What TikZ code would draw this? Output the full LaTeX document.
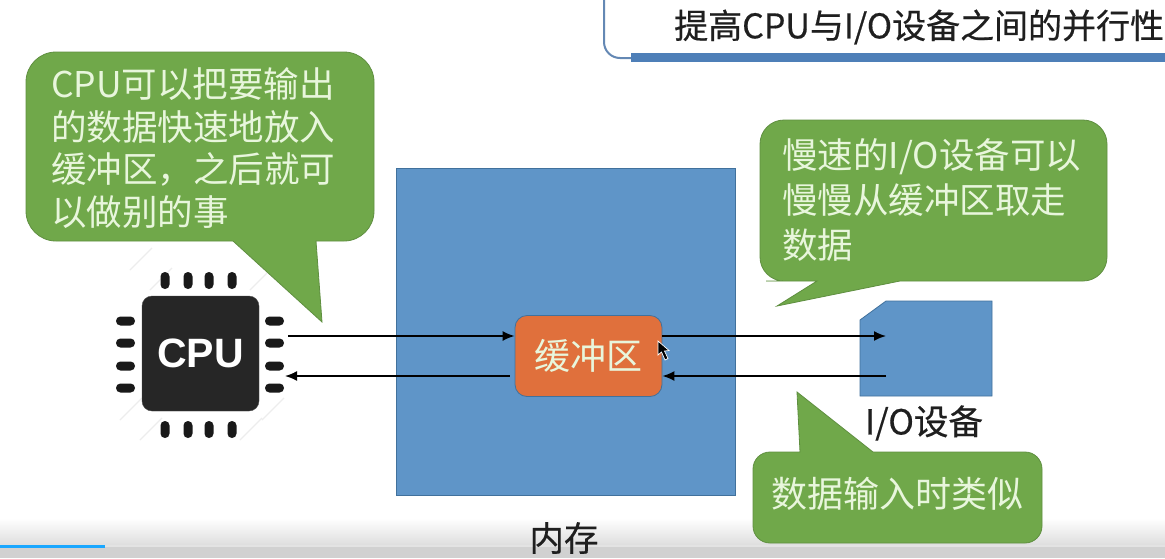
\documentclass[tikz,border=0pt]{standalone}
\usepackage{fontspec}
\setmainfont{Noto Sans CJK SC}
\newfontfamily\latinbold{Liberation Sans}
\newfontfamily\medfont[FakeBold=0.5]{Noto Sans CJK SC}
\usetikzlibrary{calc,arrows.meta}
\definecolor{callfill}{HTML}{70A84A}
\definecolor{callline}{HTML}{5F8F40}
\definecolor{calltext}{HTML}{E8F6DC}
\definecolor{memblue}{HTML}{5F95C8}
\definecolor{memline}{HTML}{41719C}
\definecolor{bufred}{HTML}{E0703C}
\definecolor{chip}{HTML}{262626}
\definecolor{framebl}{HTML}{6488B4}
\definecolor{barbl}{HTML}{4E7FB8}
\definecolor{progress}{HTML}{1AA7FF}
\tikzset{
 callout/.style={fill=callfill,draw=callline,line width=0.8pt},
 calllabel/.style={text=calltext,anchor=west,align=left,inner sep=0pt,font=\fontsize{35.5}{42.6}\selectfont},
 blacklabel/.style={text=black!88,inner sep=0pt,font=\medfont\fontsize{34.5}{40}\selectfont},
 flow/.style={line width=1.7pt,draw=black,-{Latex[length=12pt,width=10pt]}},
 pin/.style={fill=black!90,rounded corners=4.4pt},
 faint/.style={draw=black!7,line width=1.2pt},
}
\begin{document}
\begin{tikzpicture}[x=1pt,y=-1pt]
\useasboundingbox (0,0) rectangle (1165,558);
\fill[white] (0,0) rectangle (1165,558);
% bottom fade
\shade[top color=white,bottom color=black!13,shading=axis] (0,518) rectangle (1165,545);
\fill[black!18] (0,547) rectangle (1165,558);
\fill[black!11] (0,545) rectangle (1165,547);
\fill[progress] (0,544.5) rectangle (105,547.5);
% title frame
\draw[framebl,line width=2pt,rounded corners=16pt] (604,-4) -- (604,58) -- (640,58);
\fill[barbl] (631,53) rectangle (1165,62);
\node[blacklabel,font=\medfont\fontsize{34}{38}\selectfont,anchor=west] (title) at (674,27) {提高CPU与I/O设备之间的并行性};
% memory
\node[draw=memline,fill=memblue,line width=0.8pt,minimum width=339pt,minimum height=327pt,inner sep=0pt] (mem) at (565.5,331.5) {};
\node[blacklabel] (memlabel) at (564,538) {内存};
% buffer
\node[draw=memline,fill=bufred,line width=0.8pt,rounded corners=12pt,minimum width=147pt,minimum height=81pt,inner sep=0pt,text=calltext,font=\fontsize{36}{40}\selectfont] (buf) at (588.5,356) {缓冲区};
% IO device
\draw[draw=memline,fill=memblue,line width=0.8pt] (886,301) -- (992,301) -- (992,396) -- (860,396) -- (860,320) -- cycle;
\node[blacklabel] (iolabel) at (924,423) {I/O设备};
% CPU chip
\foreach \a/\b in {130/270,150/290,240/440,262/420,120/420,140/440,250/290,270/270}{
  \draw[faint] (\a,\b) -- ++(22,-22);
}
\node[fill=chip,draw=black!70,rounded corners=10pt,minimum width=117pt,minimum height=115pt,inner sep=0pt,text=white,font=\latinbold\bfseries\fontsize{41}{44}\selectfont] (cpu) at (200.5,353.5) {CPU};
\foreach \x in {165,188,209,232}{
  \path[pin] (\x-4.5,272) rectangle (\x+4.5,289);
  \path[pin] (\x-4.5,421) rectangle (\x+4.5,438);
}
\foreach \y in {321,343,366,388}{
  \path[pin] (116,\y-4.5) rectangle (135,\y+4.5);
  \path[pin] (265,\y-4.5) rectangle (284,\y+4.5);
}
% connectors
\coordinate (cpuout) at (288,336);
\coordinate (cpuin) at (285,376);
\coordinate (ioin) at (886,336);
\coordinate (ioout) at (886,376);
\draw[flow] (cpuout) -- (cpuout -| buf.west);
\draw[flow] (cpuin -| buf.west) ++(-5,0) coordinate (bufl) (bufl) -- (cpuin);
\draw[flow] (ioin -| buf.east) -- (ioin);
\draw[flow] (ioout) -- (ioout -| buf.east);
% cursor
\fill[black,draw=white,line width=0.7pt] (658,341) -- (658,355) -- (661.5,352) -- (665,360) -- (668,358.5) -- (664.5,351) -- (669,350.5) -- cycle;
% callouts
\path[callout] (316,241) [rounded corners=30pt] -- (374,241) -- (374,52) -- (26,52) -- (26,241) -- (200,241) [sharp corners] -- (233,241) -- (322,322) -- cycle;
\node[calllabel] (c1) at (51,148) {CPU可以把要输出\\的数据快速地放入\\缓冲区，之后就可\\以做别的事};
\path[callout] (900,281) [rounded corners=24pt] -- (1107,281) -- (1107,120) -- (760,120) -- (760,281) -- (790,281) [sharp corners] -- (817,281) -- (777,306) -- cycle;
\node[calllabel,font=\fontsize{35.5}{45}\selectfont] (c2) at (782,200) {慢速的I/O设备可以\\慢慢从缓冲区取走\\数据};
\path[callout] (800,452) [rounded corners=17pt] -- (753,452) -- (753,543) -- (1042,543) -- (1042,452) -- (900,452) [sharp corners] -- (873,452) -- (797,392) -- cycle;
\node[calllabel,font=\fontsize{36}{45}\selectfont] (c3) at (771,494) {数据输入时类似};
\end{tikzpicture}
\end{document}
